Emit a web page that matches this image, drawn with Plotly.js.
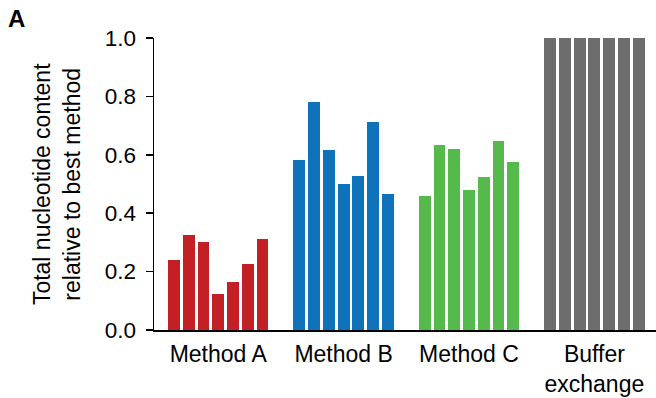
<!DOCTYPE html>
<html>
<head>
<meta charset="utf-8">
<script src="https://cdn.plot.ly/plotly-3.0.1.min.js"></script>
<style>html,body{margin:0;padding:0;background:#fff;}#chart{width:656px;height:398px;}</style>
</head>
<body>
<div id="chart"></div>
<script>
const categories = ["Method A", "Method B", "Method C", "Buffer<br>exchange"];
const methodA = [0.240, 0.325, 0.301, 0.123, 0.164, 0.226, 0.312];
const methodB = [0.582, 0.781, 0.616, 0.500, 0.527, 0.712, 0.466];
const methodC = [0.459, 0.634, 0.620, 0.479, 0.524, 0.647, 0.575];
const bufferExchange = [1.0, 1.0, 1.0, 1.0, 1.0, 1.0, 1.0];
const colors = ["#C32026", "#0E73BA", "#55B94B", "#6D6D6D"];
const yTicks = [0, 0.2, 0.4, 0.6, 0.8, 1.0];

const groups = [methodA, methodB, methodC, bufferExchange];
const groupStep = 8.5;
const font = "Liberation Sans, Arial, Helvetica, sans-serif";

const traces = groups.map((vals, g) => ({
  type: "bar",
  x: vals.map((v, i) => g * groupStep + i),
  y: vals,
  width: 0.81,
  marker: {color: colors[g], line: {width: 0}},
  hoverinfo: "y",
  showlegend: false
}));

const layout = {
  width: 656, height: 398,
  margin: {l: 154, r: 0, t: 38, b: 68, pad: 0},
  paper_bgcolor: "#fff", plot_bgcolor: "#fff",
  font: {family: font, color: "#000"},
  xaxis: {
    range: [-1.356, 32.68],
    tickvals: categories.map((c, g) => g * groupStep + 3),
    ticktext: categories,
    ticks: "",
    showgrid: false, zeroline: false,
    showline: true, linecolor: "#000", linewidth: 2,
    tickfont: {size: 23, family: font, color: "#000"},
    ticklabelstandoff: 2,
    fixedrange: true
  },
  yaxis: {
    range: [0, 1],
    tickvals: yTicks,
    tickformat: ".1f",
    ticks: "outside", ticklen: 7, tickwidth: 1.5, tickcolor: "#000",
    showgrid: false, zeroline: false,
    showline: true, linecolor: "#000", linewidth: 1.5,
    tickfont: {size: 22.5, family: font, color: "#000"},
    ticklabelstandoff: 5,
    fixedrange: true
  },
  annotations: [
    {text: "<b>A</b>", xref: "paper", yref: "paper", x: -0.273, y: 1.067,
     xanchor: "center", yanchor: "middle", showarrow: false,
     font: {size: 24, family: font, color: "#000"}},
    {text: "Total nucleotide content<br>relative to best method", xref: "paper", yref: "paper",
     x: -0.193, y: 0.5, xanchor: "center", yanchor: "middle", textangle: -90,
     showarrow: false, font: {size: 23, family: font, color: "#000"}}
  ],
  bargap: 0
};

Plotly.newPlot("chart", traces, layout, {displayModeBar: false, staticPlot: true});
</script>
</body>
</html>
